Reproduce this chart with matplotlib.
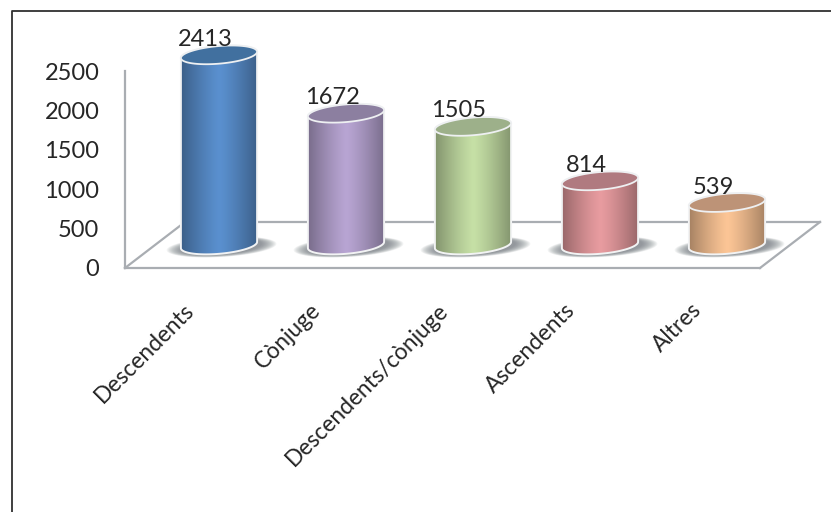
import numpy as np
import matplotlib
matplotlib.use("Agg")
import matplotlib.pyplot as plt
from matplotlib.colors import to_rgb
from matplotlib.patches import Polygon
from matplotlib.lines import Line2D
from matplotlib.transforms import offset_copy, Affine2D

categories = ["Descendents", "Cònjuge", "Descendents/cònjuge", "Ascendents", "Altres"]
values = [2413, 1672, 1505, 814, 539]
yticks = [0, 500, 1000, 1500, 2000, 2500]
colors = ["#5a90cf", "#b8a5d3", "#c6e0a6", "#e89ca0", "#fcc596"]
tops = ["#41709f", "#8c7fa0", "#9db08a", "#b07a80", "#bd9377"]
edge_dark = 0.66

plt.rcParams["font.family"] = ["Lato", "DejaVu Sans"]
W, H = 831, 512
fig = plt.figure(figsize=(W / 100, H / 100), dpi=100, facecolor="white")
ax = fig.add_axes([125 / W, (H - 268) / H, 635 / W, 197 / H])
ax.set_xlim(-0.5, 4.5)
ax.set_ylim(0, 2500)
ax.patch.set_alpha(0)

GRAY = "#a9adb2"
TXT = "#262626"
# frame of the picture: left and top edges only
fig.add_artist(Line2D([11.5 / W, 11.5 / W, 1.0], [0, 1 - 10.5 / H, 1 - 10.5 / H],
                      transform=fig.transFigure, color="#303030", lw=1.3))

# floor
back = offset_copy(ax.transData, fig=fig, x=60, y=46, units="dots")
base = offset_copy(ax.transData, fig=fig, x=30.5, y=23, units="dots")
ax.plot([-0.5, 4.5], [0, 0], color=GRAY, lw=1.6, clip_on=False, zorder=1)
ax.plot([-0.5, 4.5], [0, 0], color=GRAY, lw=1.6, clip_on=False, zorder=1, transform=back)
for xx in (-0.5, 4.5):
    x0, y0 = ax.transData.transform((xx, 0))
    x1, y1 = back.transform((xx, 0))
    ax.plot([x0, x1], [y0, y1], color=GRAY, lw=1.6, transform=None, clip_on=False, zorder=1)

HW = 0.30      # half width in category units
EH = 112       # half height of the ellipse in value units
RISE = 40
t = np.linspace(0, 2 * np.pi, 121)


def ell(xc, yc, a=HW, b=EH, rise=RISE):
    return xc + a * np.cos(t), yc + b * np.sin(t) + rise * np.cos(t)


for i, (v, c, top) in enumerate(zip(values, colors, tops)):
    # soft shadow
    for k in range(14):
        f = 1 - k / 14
        ex, ey = ell(i + 0.02, -25, a=HW * (1.02 + 0.42 * f), b=EH * (0.85 + 0.28 * f), rise=RISE)
        ax.add_patch(Polygon(np.c_[ex, ey], closed=True, fc="#6f767d", ec="none", alpha=0.085,
                             transform=base, clip_on=False, zorder=2))
    # body: lower half of the base ellipse, then upper edge
    th = np.linspace(0, np.pi, 61)
    bx = i + HW * np.cos(th)
    by_bot = -EH * np.sin(th) + RISE * np.cos(th)
    verts = np.r_[np.c_[bx, by_bot], np.c_[bx[::-1], v + EH * np.sin(th[::-1]) + RISE * np.cos(th[::-1])]]
    body = Polygon(verts, closed=True, transform=base, fc="none", ec="#f2f3f4", lw=1.4,
                   clip_on=False, zorder=3)
    # horizontal shading
    s = np.linspace(-1, 1, 128)
    shade = edge_dark + (1 - edge_dark) * (1 - np.abs(s) ** 1.25)
    img = np.array(to_rgb(c))[None, None, :] * shade[None, :, None]
    im = ax.imshow(img, extent=(i - HW, i + HW, -EH - 60, v + EH + 60), transform=base,
                   aspect="auto", zorder=3, interpolation="bilinear")
    ax.add_patch(body)
    im.set_clip_box(fig.bbox)
    im.set_clip_path(body)
    # top ellipse
    ex, ey = ell(i, v)
    ax.add_patch(Polygon(np.c_[ex, ey], closed=True, fc=top, ec="#eef0f2", lw=1.3,
                         transform=base, clip_on=False, zorder=4))
    ax.annotate(str(v), xy=(i, v), xycoords=base, xytext=(-14, 15.5), textcoords="offset pixels",
                ha="center", va="center", fontsize=17, color=TXT, zorder=5, annotation_clip=False)

ax.set_xlim(-0.5, 4.5)
ax.set_ylim(0, 2500)

for name in ("top", "right", "bottom"):
    ax.spines[name].set_visible(False)
ax.spines["left"].set_color(GRAY)
ax.spines["left"].set_linewidth(1.6)
ax.set_yticks(yticks)
ax.set_yticklabels([str(y) for y in yticks], fontsize=17, color=TXT)
ax.tick_params(axis="y", length=0, pad=18.5)
ax.set_xticks(range(5))
ax.set_xticklabels(categories, fontsize=16.4, color=TXT, rotation=45, ha="right",
                   va="center", rotation_mode="anchor")
ax.tick_params(axis="x", length=0, pad=28)
for lab in ax.get_xticklabels():
    lab.set_transform(lab.get_transform() + Affine2D().translate(2, 0))

fig.savefig("out.png", dpi=100, facecolor="white")
